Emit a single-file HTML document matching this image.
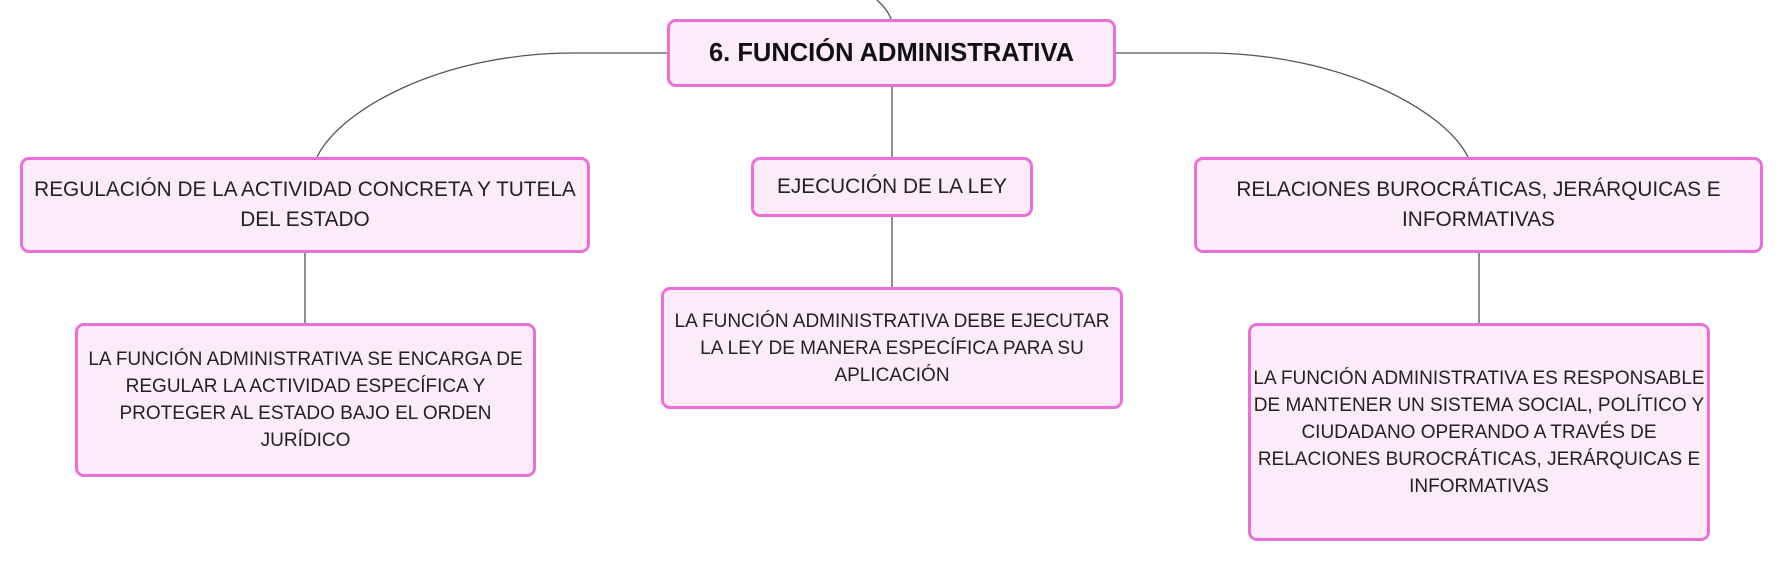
<!DOCTYPE html>
<html><head><meta charset="utf-8"><style>
html,body{margin:0;padding:0;background:#fff;}
body{width:1785px;height:562px;position:relative;overflow:hidden;font-family:"Liberation Sans",sans-serif;}
.b{position:absolute;box-sizing:border-box;border:3px solid #ec6fd9;border-radius:9px;background:#fcebf8;display:flex;align-items:center;justify-content:center;text-align:center;color:#222;white-space:nowrap;}
svg{position:absolute;left:0;top:0;}
</style></head><body>
<svg width="1785" height="562" fill="none" stroke="#555" stroke-width="1.3">
<path d="M877 0 Q888 10 891 19"/>
<path d="M668 53 L574 53 C440 53 340 110 317 157"/>
<path d="M1116 53 L1206 53 C1340 53 1445 110 1468 157"/>
<path d="M892 87 L892 157"/>
<path d="M892 217 L892 287"/>
<path d="M305 253 L305 323"/>
<path d="M1479 253 L1479 323"/>
</svg>
<div class="b" style="left:667px;top:19px;width:449px;height:68px;font-weight:bold;font-size:25.5px;color:#111;">6. FUNCIÓN ADMINISTRATIVA</div>
<div class="b" style="left:20px;top:157px;width:570px;height:96px;font-size:20.8px;line-height:30px;">REGULACIÓN DE LA ACTIVIDAD CONCRETA Y TUTELA<br>DEL ESTADO</div>
<div class="b" style="left:751px;top:157px;width:282px;height:60px;font-size:20.8px;">EJECUCIÓN DE LA LEY</div>
<div class="b" style="left:1194px;top:157px;width:569px;height:96px;font-size:20.8px;line-height:30px;">RELACIONES BUROCRÁTICAS, JERÁRQUICAS E<br>INFORMATIVAS</div>
<div class="b" style="left:75px;top:323px;width:461px;height:154px;font-size:19px;line-height:27px;">LA FUNCIÓN ADMINISTRATIVA SE ENCARGA DE<br>REGULAR LA ACTIVIDAD ESPECÍFICA Y<br>PROTEGER AL ESTADO BAJO EL ORDEN<br>JURÍDICO</div>
<div class="b" style="left:661px;top:287px;width:462px;height:122px;font-size:19px;line-height:27px;">LA FUNCIÓN ADMINISTRATIVA DEBE EJECUTAR<br>LA LEY DE MANERA ESPECÍFICA PARA SU<br>APLICACIÓN</div>
<div class="b" style="left:1248px;top:323px;width:462px;height:218px;font-size:19px;line-height:27px;">LA FUNCIÓN ADMINISTRATIVA ES RESPONSABLE<br>DE MANTENER UN SISTEMA SOCIAL, POLÍTICO Y<br>CIUDADANO OPERANDO A TRAVÉS DE<br>RELACIONES BUROCRÁTICAS, JERÁRQUICAS E<br>INFORMATIVAS</div>
</body></html>
